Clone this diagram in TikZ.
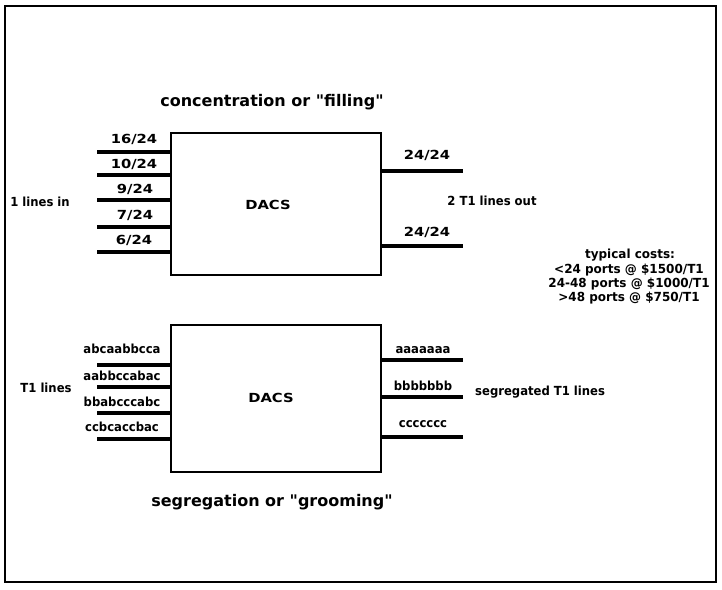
\documentclass[tikz,border=0pt]{standalone}
\usepackage{fontspec}
\newfontfamily\ttlf{DejaVu Sans}[FakeStretch=1.0]
\newfontfamily\numf{DejaVu Sans}[FakeStretch=1.18]
\newfontfamily\letf{DejaVu Sans}[FakeStretch=0.93]
\newfontfamily\costf{DejaVu Sans}[FakeStretch=0.96]
\tikzset{
  frame/.style={line width=1.5pt},
  dacs/.style={draw, line width=1.4pt, inner sep=0pt},
  port/.style={line width=3.2pt},
  numlab/.style={font=\numf\bfseries\fontsize{12.5}{14}\selectfont, inner sep=0pt},
  letlab/.style={font=\letf\bfseries\fontsize{12.5}{14}\selectfont, inner sep=0pt},
  costlab/.style={font=\costf\bfseries\fontsize{12.5}{14}\selectfont, inner sep=0pt, align=center},
  ttl/.style={font=\ttlf\bfseries\fontsize{16}{19}\selectfont, inner sep=0pt}
}
\begin{document}
\begin{tikzpicture}[x=1pt,y=-1pt]
\useasboundingbox (0,0) rectangle (722,589);
\draw[frame] (5,6) rectangle (716,582);

% titles
\node[ttl] (t1) at (272,102) {concentration or "filling"};
\node[ttl] (t2) at (272,502) {segregation or "grooming"};

% upper DACS
\node[dacs, minimum width=210pt, minimum height=142pt] (up) at (276,204) {};
\node[numlab] (upl) at (268,205) {DACS};

\coordinate (ui1) at (97,152);
\coordinate (ui2) at (97,175);
\coordinate (ui3) at (97,200);
\coordinate (ui4) at (97,227);
\coordinate (ui5) at (97,252);
\foreach \c in {ui1,ui2,ui3,ui4,ui5} \draw[port] (\c) -- (\c -| up.west);
\node[numlab] (ul1) at (134,139) {16/24};
\node[numlab] (ul2) at (134,164) {10/24};
\node[numlab] (ul3) at (135,189) {9/24};
\node[numlab] (ul4) at (135,215) {7/24};
\node[numlab] (ul5) at (134,240) {6/24};
\node[letlab] (uin) at (40,202) {1 lines in};

\coordinate (uo1) at (463,171);
\coordinate (uo2) at (463,246);
\foreach \c in {uo1,uo2} \draw[port] (\c -| up.east) -- (\c);
\node[numlab] (uol1) at (427,155) {24/24};
\node[numlab] (uol2) at (427,232) {24/24};
\node[letlab] (uout) at (492,201) {2 T1 lines out};

% costs
\node[costlab] (c0) at (630,255) {typical costs:};
\node[costlab] (c1) at (629,270) {<24 ports @ \$1500/T1};
\node[costlab] (c2) at (629,284) {24-48 ports @ \$1000/T1};
\node[costlab] (c3) at (629,298) {>48 ports @ \$750/T1};

% lower DACS
\node[dacs, minimum width=210pt, minimum height=147pt] (lo) at (276,398.5) {};
\node[numlab] (lol) at (271,398) {DACS};

\coordinate (li1) at (97,365);
\coordinate (li2) at (97,387);
\coordinate (li3) at (97,413);
\coordinate (li4) at (97,439);
\foreach \c in {li1,li2,li3,li4} \draw[port] (\c) -- (\c -| lo.west);
\node[letlab] (ll1) at (122,349) {abcaabbcca};
\node[letlab] (ll2) at (122,376) {aabbccabac};
\node[letlab] (ll3) at (122,402) {bbabcccabc};
\node[letlab] (ll4) at (122,427) {ccbcaccbac};
\node[letlab] (lin) at (46,388) {T1 lines};

\coordinate (lo1) at (463,360);
\coordinate (lo2) at (463,397);
\coordinate (lo3) at (463,437);
\foreach \c in {lo1,lo2,lo3} \draw[port] (\c -| lo.east) -- (\c);
\node[letlab] (lol1) at (423,350) {aaaaaaa};
\node[letlab] (lol2) at (423,386) {bbbbbbb};
\node[letlab] (lol3) at (423,424) {ccccccc};
\node[letlab, anchor=west] (lout) at (475,392) {segregated T1 lines};
\end{tikzpicture}
\end{document}
